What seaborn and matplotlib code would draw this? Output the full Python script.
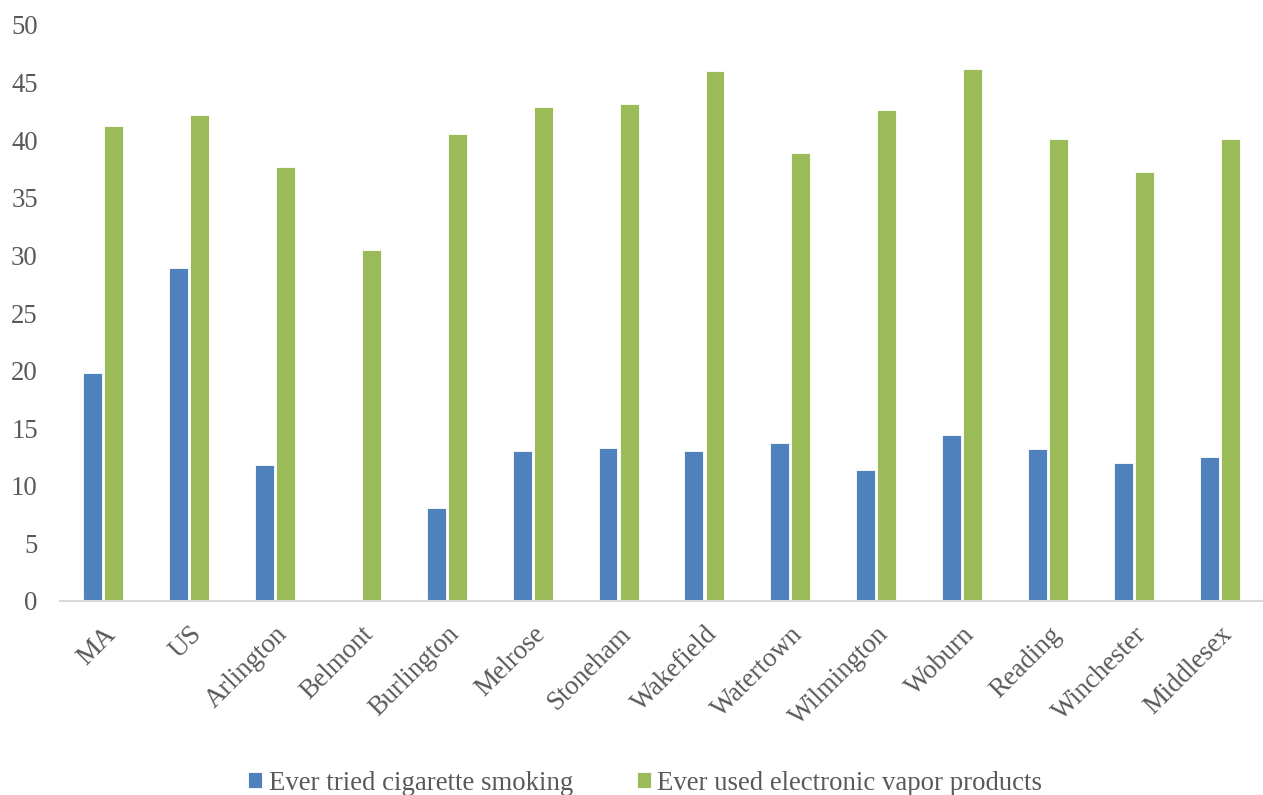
import numpy as np
import pandas as pd
import matplotlib
matplotlib.use("Agg")
import matplotlib.pyplot as plt
import seaborn as sns

# data
towns = ["MA", "US", "Arlington", "Belmont", "Burlington", "Melrose", "Stoneham",
         "Wakefield", "Watertown", "Wilmington", "Woburn", "Reading", "Winchester",
         "Middlesex"]
cig = [19.8, 28.9, 11.8, np.nan, 8.1, 13.0, 13.3, 13.0, 13.7, 11.4, 14.4, 13.2, 12.0, 12.5]
vape = [41.2, 42.2, 37.7, 30.5, 40.5, 42.9, 43.1, 46.0, 38.9, 42.6, 46.2, 40.1, 37.2, 40.1]
series = ["Ever tried cigarette smoking", "Ever used electronic vapor products"]
colors = ["#4F81BD", "#9BBB59"]

df = pd.DataFrame({"town": towns * 2,
                   "value": cig + vape,
                   "series": [series[0]] * len(towns) + [series[1]] * len(towns)})

sns.set_style("white")
plt.rcParams["font.family"] = ["Liberation Serif", "DejaVu Serif"]
grey = "#595959"
fs = 19.3

fig = plt.figure(figsize=(12.63, 7.95), dpi=100)
ax = fig.add_axes([60 / 1263, 1 - 601 / 795, 1 - 60 / 1263, (601 - 25) / 795])

sns.barplot(data=df, x="town", y="value", hue="series", order=towns,
            hue_order=series, palette=colors, saturation=1, width=0.49, gap=0.1,
            edgecolor="white", linewidth=0.6, ax=ax)

ax.set_ylim(0, 50)
ax.set_xlim(-0.5, len(towns) - 0.5)
ax.set_yticks(range(0, 51, 5))
ax.set_xlabel("")
ax.set_ylabel("")
for s in ["top", "right", "left"]:
    ax.spines[s].set_visible(False)
ax.spines["bottom"].set_color("#d9d9d9")
ax.spines["bottom"].set_linewidth(1.5)
ax.tick_params(axis="y", length=0, labelsize=fs, labelcolor=grey, pad=16)
ax.tick_params(axis="x", length=0, labelsize=fs, labelcolor=grey, pad=15)
for lab in ax.get_xticklabels():
    lab.set_rotation(45)
    lab.set_horizontalalignment("right")
    lab.set_rotation_mode("anchor")

handles, labels = ax.get_legend_handles_labels()
ax.get_legend().remove()
fig.legend(handles, labels, loc="center", bbox_to_anchor=(0.511, 1 - 783 / 795),
           ncol=2, frameon=False, fontsize=fs, labelcolor=grey,
           handlelength=0.5, handleheight=0.5, handletextpad=0.25,
           columnspacing=2.4)

fig.savefig("out.png", dpi=100)
